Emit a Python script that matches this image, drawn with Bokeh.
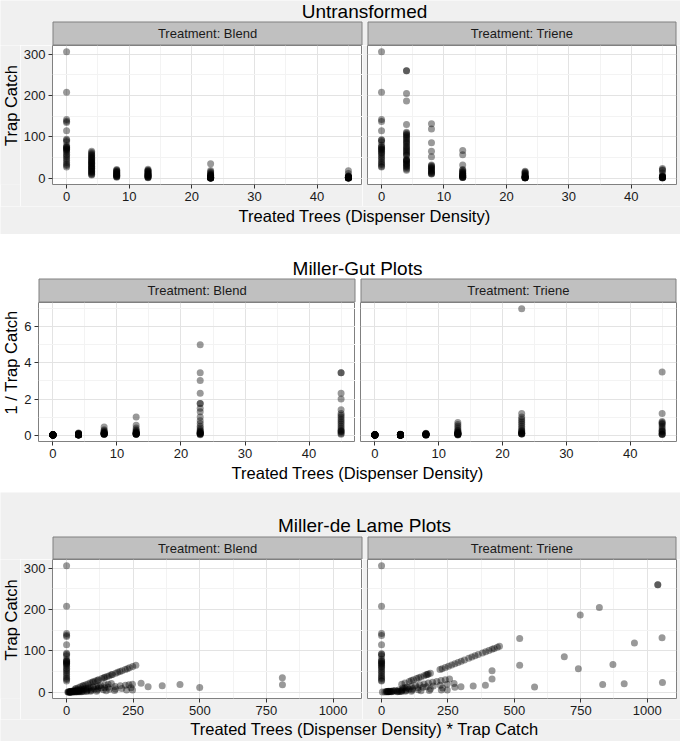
import numpy as np
from bokeh.plotting import figure
from bokeh.layouts import column, row
from bokeh.models import Range1d, FixedTicker
from bokeh.core.properties import value
from bokeh.embed import file_html
from bokeh.resources import INLINE

# ---------------- data ----------------
DENSITIES = [0, 4, 8, 13, 23, 45]
TREATMENTS = ["Blend", "Triene"]

blend_0 = [306, 208, 142, 138, 135, 115, 94, 92, 88, 79, 76, 75, 73, 72, 70, 68, 66, 63, 58, 55, 51, 47, 43, 38, 34, 31, 27]
blend_4 = [65, 62, 59, 57, 55, 52, 50, 48, 46, 43, 42, 40, 38, 36, 35, 33, 30, 29, 27, 25, 24, 22, 20, 18, 16, 15, 13, 11, 9, 8]
blend_8 = [21, 19.5, 18, 16, 15, 14, 12.5, 11, 10, 9, 8, 7, 6, 5, 4, 3.3, 2.2]
blend_13 = [21.5, 19, 18, 17, 15.5, 14, 12, 11, 10, 9, 8, 7, 6, 5, 4, 3.3, 2.5, 1.8, 1.0]
blend_23 = [35.2, 18.5, 15.6, 13.3, 10.5, 9, 8, 7, 6, 5, 4, 3.3, 2.5, 2, 1.54, 1.25, 1.0, 0.77, 0.67, 0.57, 0.57, 0.43, 0.33, 0.29, 0.2]
blend_45 = [18, 11.1, 5.5, 5, 4, 3.3, 2.5, 2, 1.67, 1.43, 1.25, 1.11, 1.0, 0.91, 0.83, 0.71, 0.5, 0.43, 0.29, 0.29]

triene_0 = [306, 208, 142, 137, 115, 93, 92, 88, 80, 76, 74, 72, 70, 68, 65, 62, 60, 56, 52, 48, 44, 40, 36, 33, 29, 27]
triene_4 = [260, 260, 205, 187, 130, 111, 109, 106, 104, 101, 98, 95, 91, 88, 85, 82, 78, 75, 72, 69, 66, 63, 60, 57, 55,
            46, 44, 43, 42, 40, 37, 35, 33, 30, 28, 26, 22, 19]
triene_8 = [132, 119, 86, 65, 52, 32, 30, 28, 26, 24, 22, 20, 18, 16, 14, 12, 11, 10]
triene_13 = [67, 57, 32, 21, 19, 17, 15, 13, 12, 10.5, 9, 8, 7, 6, 5, 4, 3.3, 2.5, 2, 1.7, 1.43]
triene_23 = [17, 15, 13, 12, 10, 8, 6, 5, 4, 3.3, 2.5, 2, 1.67, 1.43, 1.25, 1.11, 1.0, 0.83, 0.143]
triene_45 = [23.5, 20.3, 18.5, 12.8, 5.5, 5, 4, 3.3, 2.5, 2, 1.67, 1.54, 1.43, 1.33, 0.83, 0.286]

BLEND = [blend_0, blend_4, blend_8, blend_13, blend_23, blend_45]
TRIENE = [triene_0, triene_4, triene_8, triene_13, triene_23, triene_45]

SECTION_TITLES = ["Untransformed", "Miller-Gut Plots", "Miller-de Lame Plots"]
Y_LABELS = ["Trap Catch", "1 / Trap Catch", "Trap Catch"]
X_LABELS = ["Treated Trees (Dispenser Density)", "Treated Trees (Dispenser Density)",
            "Treated Trees (Dispenser Density) * Trap Catch"]

X_TICKS_DENS = [0, 10, 20, 30, 40]
X_MINOR_DENS = [5, 15, 25, 35, 45]
Y_TICKS_CATCH = [0, 100, 200, 300]
Y_MINOR_CATCH = [50, 150, 250]
Y_TICKS_INV = [0, 2, 4, 6]
Y_MINOR_INV = [1, 3, 5, 7]
X_TICKS_DC = [0, 250, 500, 750, 1000]
X_MINOR_DC = [125, 375, 625, 875]

# ---------------- style ----------------
FONT = "Liberation Sans"
GREY_BG = "#F0F0F0"
STRIP = "#C0C0C0"
BORDER = "#808080"
W = 680
YT = 20


def long_form(lists):
    d, c = [], []
    for dens, vals in zip(DENSITIES, lists):
        d += [dens] * len(vals)
        c += list(vals)
    return np.array(d, float), np.array(c, float)


def expand(lo, hi):
    pad = (hi - lo) * 0.05
    return (lo - pad, hi + pad)


def bare(width, height, bg):
    p = figure(width=width, height=height, x_range=Range1d(0, width), y_range=Range1d(0, height),
               output_backend="svg", toolbar_location=None, min_border=0,
               x_axis_location=None, y_axis_location=None,
               background_fill_color=bg, border_fill_color=bg, outline_line_color=None)
    p.grid.visible = False
    return p


def header(h, bg, title, yc, strips, strip_h, cx):
    p = bare(W, h, bg)
    for (l, r, lab) in strips:
        p.quad(left=[l + 0.5], right=[r - 0.5], bottom=[0.5], top=[strip_h + 0.5],
               fill_color=STRIP, line_color=BORDER, line_width=1)
        p.text(x=[(l + r) / 2], y=[strip_h / 2 + 0.5], text=[lab], text_font=value(FONT),
               text_font_size="13px", text_color="#1A1A1A", text_align="center", text_baseline="middle")
    p.text(x=[cx], y=[yc], text=[title], text_font=value(FONT), text_font_size="19px",
           text_color="black", text_align="center", text_baseline="middle")
    return p


def footer(h, bg, label, yc, cx):
    p = bare(W, h, bg)
    p.text(x=[cx], y=[yc], text=[label], text_font=value(FONT), text_font_size="16.5px",
           text_color="black", text_align="center", text_baseline="middle")
    return p


def ytitle(h, bg, label, yc):
    p = bare(YT, h, bg)
    p.text(x=[YT / 2], y=[yc], text=[label], angle=np.pi / 2, text_font=value(FONT),
           text_font_size="16.5px", text_color="black", text_align="center", text_baseline="middle")
    return p


def style_axis(ax):
    ax.axis_line_color = None
    ax.major_tick_in = 0
    ax.major_tick_out = 4
    ax.major_tick_line_color = "#333333"
    ax.minor_tick_line_color = None
    ax.major_label_text_font = FONT
    ax.major_label_text_font_size = "13px"
    ax.major_label_text_color = "#1A1A1A"
    ax.major_label_standoff = 3


def panel(x, y, xr, yr, xt, xm, yt, ym, bl, fw, fh, bb, br, bg, show_y):
    p = figure(width=bl + fw + br, height=fh + bb, x_range=Range1d(*xr), y_range=Range1d(*yr),
               output_backend="svg", toolbar_location=None,
               min_border_left=bl, min_border_right=br, min_border_top=0, min_border_bottom=bb,
               y_axis_location="left" if show_y else None,
               background_fill_color="white", border_fill_color=bg,
               outline_line_color=BORDER, outline_line_width=1)
    p.xaxis.ticker = FixedTicker(ticks=xt, minor_ticks=xm)
    p.xgrid.ticker = FixedTicker(ticks=xt, minor_ticks=xm)
    p.ygrid.ticker = FixedTicker(ticks=yt, minor_ticks=ym)
    for ax in p.xaxis:
        style_axis(ax)
    if show_y:
        p.yaxis.ticker = FixedTicker(ticks=yt, minor_ticks=ym)
        for ax in p.yaxis:
            style_axis(ax)
    p.grid.grid_line_color = "#E3E3E3"
    p.grid.grid_line_width = 1
    p.grid.minor_grid_line_color = "#F3F3F3"
    p.scatter(x, y, size=7, fill_color="black", fill_alpha=0.4, line_color=None)
    return p


# ---------------- derived series ----------------
bd, bc = long_form(BLEND)
td, tc = long_form(TRIENE)

series = [
    [(bd, bc), (td, tc)],
    [(bd, 1.0 / bc), (td, 1.0 / tc)],
    [(bd * bc, bc), (td * tc, tc)],
]

x_dens = expand(0, max(DENSITIES))
y_catch = expand(0, max(bc.max(), tc.max()))
y_inv = expand(0, max((1 / bc).max(), (1 / tc).max()))
x_dc = expand(0, max((bd * bc).max(), (td * tc).max()))

# layout constants per section (pixels)
cfg = [
    dict(bg=GREY_BG, bl=32, fwl=310, gap=5, fwr=309, head=45, strip=23, tyc=34.5, fh=139, bb=22, foot=28, fyc=19,
         xr=x_dens, yr=y_catch, xt=X_TICKS_DENS, xm=X_MINOR_DENS, yt=Y_TICKS_CATCH, ym=Y_MINOR_CATCH),
    dict(bg="white", bl=18, fwl=317, gap=5, fwr=316, head=68, strip=23, tyc=34.5, fh=139, bb=22, foot=29, fyc=20,
         xr=x_dens, yr=y_inv, xt=X_TICKS_DENS, xm=X_MINOR_DENS, yt=Y_TICKS_INV, ym=Y_MINOR_INV),
    dict(bg=GREY_BG, bl=32, fwl=310, gap=5, fwr=309, head=67, strip=22, tyc=34, fh=139, bb=21, foot=22, fyc=13,
         xr=x_dc, yr=y_catch, xt=X_TICKS_DC, xm=X_MINOR_DC, yt=Y_TICKS_CATCH, ym=Y_MINOR_CATCH),
]

children = []
for i, c in enumerate(cfg):
    left_l = YT + c["bl"]
    left_r = left_l + c["fwl"]
    right_l = left_r + c["gap"]
    right_r = right_l + c["fwr"]
    cx = (left_l + right_r) / 2
    strips = [(left_l, left_r, "Treatment: " + TREATMENTS[0]),
              (right_l, right_r, "Treatment: " + TREATMENTS[1])]
    children.append(header(c["head"], c["bg"], SECTION_TITLES[i], c["tyc"], strips, c["strip"], cx))
    (x1, y1), (x2, y2) = series[i]
    rh = c["fh"] + c["bb"]
    yt_fig = ytitle(rh, c["bg"], Y_LABELS[i], c["bb"] + c["fh"] / 2)
    pl = panel(x1, y1, c["xr"], c["yr"], c["xt"], c["xm"], c["yt"], c["ym"],
               c["bl"], c["fwl"], c["fh"], c["bb"], 0, c["bg"], True)
    pr = panel(x2, y2, c["xr"], c["yr"], c["xt"], c["xm"], c["yt"], c["ym"],
               c["gap"], c["fwr"], c["fh"], c["bb"], W - right_r, c["bg"], False)
    children.append(row(yt_fig, pl, pr))
    children.append(footer(c["foot"], c["bg"], X_LABELS[i], c["fyc"], cx))

layout = column(*children)
open("out.html", "w").write(file_html(layout, INLINE))
